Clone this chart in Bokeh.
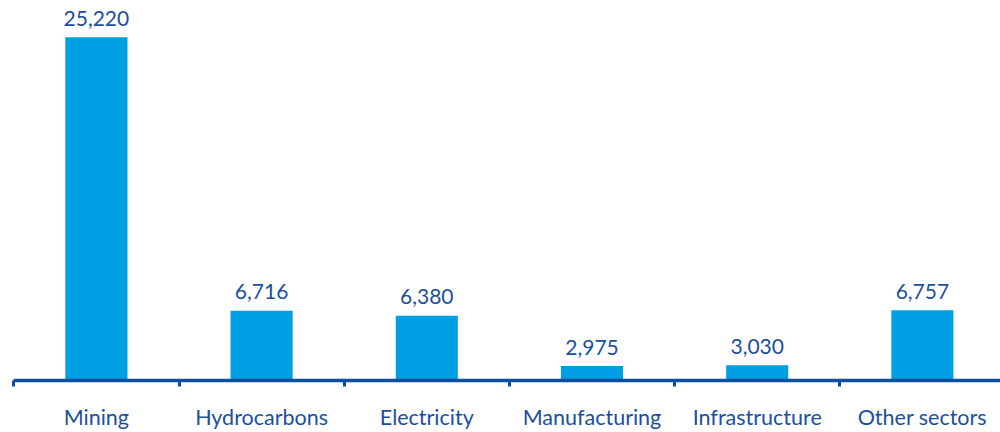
from bokeh.plotting import figure
from bokeh.models import ColumnDataSource, FixedTicker, Range1d
from bokeh.core.properties import value
from bokeh.embed import file_html
from bokeh.resources import INLINE

categories = ["Mining", "Hydrocarbons", "Electricity", "Manufacturing", "Infrastructure", "Other sectors"]
values = [25220, 6716, 6380, 2975, 3030, 6757]

BAR = "#009FE3"
TEXT = "#1b4f9e"
AXIS = "#0d4ea1"
FONT = "Lato"

xs = list(range(len(categories)))
src = ColumnDataSource(dict(
    x=xs,
    v=values,
    lab=[f"{v:,}" for v in values],
))

step = 165.2
x_start = -0.5 - 13.3 / step
x_end = x_start + 1000 / step
y_base = 2000

p = figure(width=1000, height=432, output_backend="svg", toolbar_location=None,
           x_range=Range1d(x_start, x_end), y_range=Range1d(y_base, 27710),
           y_axis_location=None, min_border_left=0, min_border_right=0,
           min_border_top=0, min_border_bottom=50)
p.outline_line_color = None
p.xgrid.grid_line_color = None
p.ygrid.grid_line_color = None
p.background_fill_color = "white"
p.border_fill_color = "white"

p.vbar(x="x", top="v", bottom=y_base, width=0.376, source=src, color=BAR, line_color=None)
p.text(x="x", y="v", text="lab", source=src, text_align="center", text_baseline="alphabetic",
       y_offset=-19, text_font=value(FONT), text_font_size="21px", text_color=TEXT)

ax = p.xaxis[0]
ax.ticker = FixedTicker(ticks=xs, minor_ticks=[i - 0.5 for i in range(len(categories) + 1)])
ax.major_label_overrides = {i: c for i, c in enumerate(categories)}
ax.bounds = (-0.5, len(categories) - 0.5)
ax.axis_line_color = AXIS
ax.axis_line_width = 3.5
ax.major_tick_out = 0
ax.major_tick_in = 0
ax.major_tick_line_color = None
ax.minor_tick_out = 6
ax.minor_tick_in = 0
ax.minor_tick_line_color = AXIS
ax.minor_tick_line_width = 3
ax.major_label_standoff = 17
ax.major_label_text_font = FONT
ax.major_label_text_font_size = "21.5px"
ax.major_label_text_color = TEXT

open("out.html", "w").write(file_html(p, INLINE))
